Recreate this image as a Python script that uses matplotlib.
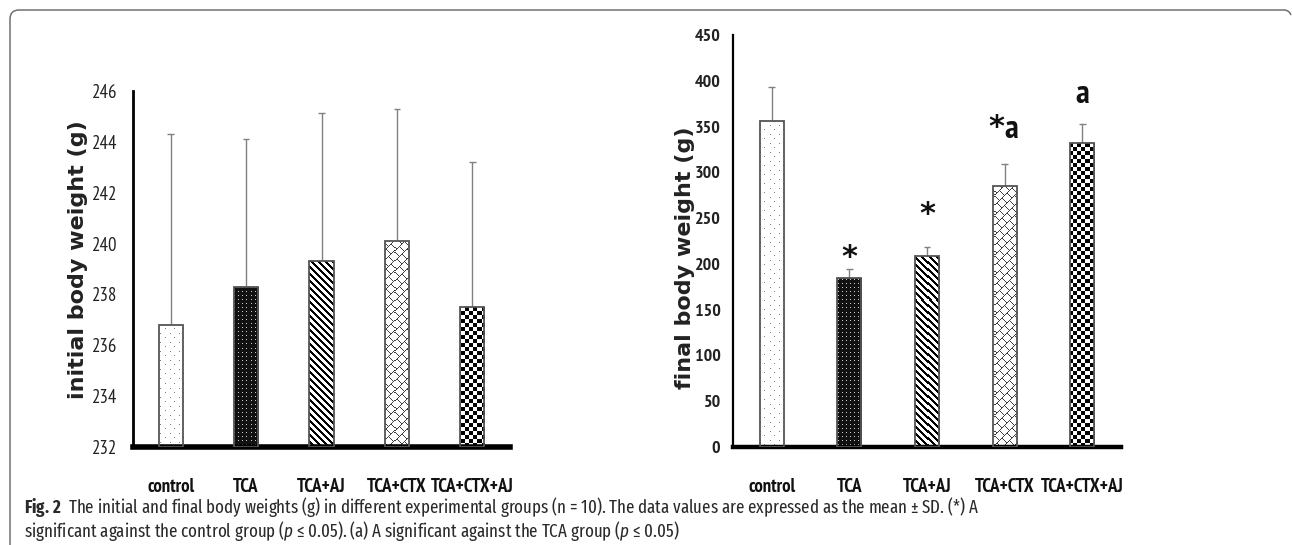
import numpy as np
import matplotlib
matplotlib.use("Agg")
import matplotlib.pyplot as plt
from matplotlib.path import Path
from matplotlib.patches import PathPatch

# ---- data -------------------------------------------------------------
groups = ["control", "TCA", "TCA+AJ", "TCA+CTX", "TCA+CTX+AJ"]
initial_mean = [236.8, 238.3, 239.3, 240.1, 237.5]
initial_sd = [7.5, 5.8, 5.85, 5.2, 5.7]
final_mean = [356, 185, 209, 285, 332]
final_sd = [37, 9, 9, 24, 21]
final_marks = ["", "*", "*", "*a", "a"]
initial_ticks = [232, 234, 236, 238, 240, 242, 244, 246]
final_ticks = [0, 50, 100, 150, 200, 250, 300, 350, 400, 450]

NARROW = ["PT Sans Narrow", "Archivo Narrow", "DejaVu Sans"]
CAPTION = ["Fira Sans Extra Condensed", "Fira Sans Condensed", "DejaVu Sans"]
plt.rcParams["font.family"] = NARROW

W, H = 1293, 545
fig = plt.figure(figsize=(W / 100, H / 100), dpi=100)


def px_rect(x0, y_top, x1, y_bot):
    return [x0 / W, 1 - y_bot / H, (x1 - x0) / W, (y_bot - y_top) / H]


ax1 = fig.add_axes(px_rect(133, 91, 510, 447))
ax2 = fig.add_axes(px_rect(733, 35, 1121, 447))

# ---- bar fill textures -------------------------------------------------
def texture(kind, h, w):
    i, j = np.mgrid[0:h, 0:w]
    img = np.ones((h, w, 3))
    if kind == "dots":
        m = ((i % 9 == 0) & (j % 9 == 0)) | ((i % 9 == 4) & (j % 9 == 4))
        img[m] = 0.5
    elif kind == "dark":
        img[:] = 0.07
        m = (i % 4 == 1) & (j % 4 == 1)
        img[m] = 0.8
    elif kind == "stripes":
        m = (j - i) % 7 < 3
        img[m] = 0.0
    elif kind == "herring":
        p = 10
        band = (i + j) // p
        m = ((i + j) % p == 0) | (((j - i) + (band % 2) * (p // 2)) % p == 0)
        img[m] = 0.25
    elif kind == "checker":
        m = ((i // 4 + j // 4) % 2) == 1
        img[m] = 0.0
    return img


kinds = ["dots", "dark", "stripes", "herring", "checker"]


def draw_panel(ax, means, sds, ymin, ymax, width):
    x = np.arange(len(groups))
    ax.set_xlim(-0.5, len(groups) - 0.5)
    bars = ax.bar(x, np.array(means) - ymin, width=width, bottom=ymin,
                  color="white", edgecolor="none", zorder=2)
    bb = ax.get_window_extent()
    h, w = int(round(bb.height)), int(round(bb.width))
    for bar, kind in zip(bars, kinds):
        im = ax.imshow(texture(kind, h, w), extent=(0, 1, 0, 1),
                       transform=ax.transAxes, interpolation="nearest",
                       aspect="auto", zorder=2.2)
        im.set_clip_path(bar)
    ax.bar(x, np.array(means) - ymin, width=width, bottom=ymin,
           fill=False, edgecolor="#555555", linewidth=1.3, zorder=3)
    tops = np.array(means) + np.array(sds)
    ax.vlines(x, means, tops, color="#808080", linewidth=1.0, zorder=1.5)
    ax.hlines(tops, x - 0.045, x + 0.045, color="#808080", linewidth=1.0,
              zorder=1.5)
    ax.set_ylim(ymin, ymax)
    ax.set_xticks(x)
    ax.set_xticklabels(groups, fontweight="bold", fontsize=13.5,
                       color="#111111")
    for s in ("top", "right"):
        ax.spines[s].set_visible(False)
    ax.tick_params(axis="both", length=0)
    ax.tick_params(axis="x", pad=22)


draw_panel(ax1, initial_mean, initial_sd, 232, 246, 0.32)
ax1.set_yticks(initial_ticks)
ax1.set_yticklabels([str(t) for t in initial_ticks], fontsize=13.5,
                    color="#222222")
ax1.tick_params(axis="y", pad=11)
ax1.spines["left"].set_linewidth(2.0)
ax1.spines["bottom"].set_linewidth(4.0)

draw_panel(ax2, final_mean, final_sd, 0, 450, 0.31)
ax2.set_yticks(final_ticks)
ax2.set_yticklabels([str(t) for t in final_ticks], fontsize=13,
                    fontweight="bold", color="#222222")
ax2.tick_params(axis="y", pad=9)
ax2.spines["left"].set_linewidth(1.6)
ax2.spines["bottom"].set_linewidth(3.2)

# significance marks above the error bars: "*" vs control, "a" vs TCA
star_gap = [0, 2.5, 17.5, 20.5, 0]      # points above the error-bar cap
letter_gap = [0, 0, 0, 19, 15]
for k, (m, s, lab) in enumerate(zip(final_mean, final_sd, final_marks)):
    both = len(lab) > 1
    if "*" in lab:
        ax2.annotate("*", (k, m + s), xytext=(-6 if both else 0, star_gap[k]),
                     textcoords="offset points", ha="center", va="baseline",
                     fontsize=22, fontweight="bold", family="DejaVu Sans",
                     color="#111111")
    if "a" in lab:
        ax2.annotate("a", (k, m + s), xytext=(5 if both else 0, letter_gap[k]),
                     textcoords="offset points", ha="center", va="baseline",
                     fontsize=24, fontweight="bold", color="#111111")

# axis titles
fig.text(78 / W, 1 - 260 / H, "initial body weight (g)", rotation=90,
         ha="center", va="center", fontsize=16, fontweight="bold",
         family="DejaVu Sans", color="#222222")
fig.text(685 / W, 1 - 258 / H, "final body weight (g)", rotation=90,
         ha="center", va="center", fontsize=16, fontweight="bold",
         family="DejaVu Sans", color="#222222")

# caption
plt.rcParams["mathtext.fontset"] = "custom"
plt.rcParams["mathtext.rm"] = "Fira Sans Extra Condensed"
plt.rcParams["mathtext.it"] = "Fira Sans Extra Condensed:italic"
plt.rcParams["mathtext.bf"] = "Fira Sans Extra Condensed:bold"
line1 = (r"$\mathbf{Fig.\,2}$  The initial and final body weights (g) in "
         r"different experimental groups (n = 10). The data values are "
         r"expressed as the mean ± SD. (*) A")
line2 = (r"significant against the control group ($\it{p}$ ≤ 0.05). "
         r"(a) A significant against the TCA group ($\it{p}$ ≤ 0.05)")
fig.text(24 / W, 1 - 507 / H, line1, ha="left", va="center", fontsize=13.2,
         color="#2a2a2a", family=CAPTION)
fig.text(24 / W, 1 - 531 / H, line2, ha="left", va="center", fontsize=13.2,
         color="#2a2a2a", family=CAPTION)

# rounded panel frame (top and left edges)
r = 9
verts = [(10, H + 5), (10, 10 + r), (10, 10), (10 + r, 10),
         (1284, 10), (1289, 10), (1291, 15)]
codes = [Path.MOVETO, Path.LINETO, Path.CURVE3, Path.CURVE3,
         Path.LINETO, Path.CURVE3, Path.CURVE3]
verts = [(vx / W, 1 - vy / H) for vx, vy in verts]
fig.add_artist(PathPatch(Path(verts, codes), fill=False, edgecolor="#707070",
                         linewidth=1.1, transform=fig.transFigure))

fig.savefig("out.png", dpi=100)
